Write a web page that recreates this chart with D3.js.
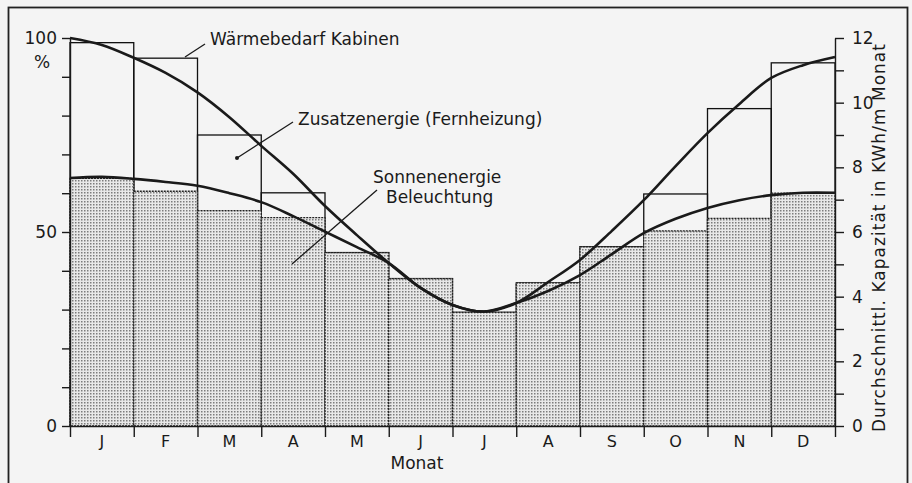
<html>
<script src='https://d3js.org/d3.v7.min.js'></script>
<style>
    body { margin: 0; background: #f4f4f4; }
    text { font-family: 'DejaVu Sans', sans-serif; fill: #1a1a1a; }
    .axis path, .axis line { stroke: #1a1a1a; stroke-width: 1.4; }
    .axis text { font-size: 17px; }
</style>

<body onload='init()'>
    <svg width=912 height=483></svg>
    <script>
        // data
        const months = ['J', 'F', 'M', 'A', 'M', 'J', 'J', 'A', 'S', 'O', 'N', 'D'];
        // Waermebedarf Kabinen (total bar height, %)
        const waermebedarf = [98.8, 94.8, 75.0, 60.1, 44.7, 38.0, 29.3, 36.9, 46.2, 59.8, 81.8, 93.6];
        // Sonnenenergie + Beleuchtung (shaded part, %)
        const sonnenenergie = [63.8, 60.5, 55.5, 53.7, 44.7, 38.0, 29.3, 36.9, 46.2, 50.3, 53.5, 60.0];
        // smooth curves, sampled at month boundaries and mid months
        const kurveMonat = [0, 0.5, 1, 1.5, 2, 2.5, 3, 3.5, 4, 4.5, 5, 5.5, 6, 6.5, 7, 7.5, 8, 8.5, 9, 9.5, 10, 10.5, 11, 11.5, 12];
        const kurveBedarf = [100, 98.2, 94.9, 91, 86, 79.6, 72.2, 65, 56.7, 49.2, 42, 35.6, 31.2, 29.5, 31.7, 37.1, 42.8, 50.3, 58.2, 67, 75.5, 83, 89.7, 93, 95.1];
        const kurveSonne = [63.9, 64.2, 63.7, 62.9, 61.9, 60, 57.7, 54.1, 50.1, 46.1, 42, 35.6, 31.2, 29.5, 31.7, 34.8, 38.9, 44.3, 49.7, 53.4, 56.2, 58.2, 59.5, 60.1, 60.1];
        const pctTicks = [0, 10, 20, 30, 40, 50, 60, 70, 80, 90, 100];
        const pctLabels = [0, 50, 100];
        const kwhTicks = [0, 1, 2, 3, 4, 5, 6, 7, 8, 9, 10, 11, 12];
        const kwhLabels = [0, 2, 4, 6, 8, 10, 12];

        function init() {
            const svg = d3.select('svg');
            const left = 70, right = 835, top = 38, bottom = 426;

            // outer frame
            svg.append('rect')
                .attr('x', 8.5).attr('y', 7.5).attr('width', 899).attr('height', 495)
                .attr('fill', '#f4f4f4').attr('stroke', '#222').attr('stroke-width', 1.8);

            // stipple pattern
            const pat = svg.append('defs').append('pattern')
                .attr('id', 'dots').attr('patternUnits', 'userSpaceOnUse')
                .attr('width', 3).attr('height', 3);
            pat.append('rect').attr('width', 3).attr('height', 3).attr('fill', '#e8e8e8');
            pat.append('rect').attr('x', 0).attr('y', 0).attr('width', 1.5).attr('height', 1.5).attr('fill', '#7c7c7c');

            const xb = d3.scaleBand().domain(d3.range(12)).range([left, right]).padding(0);
            const x = d3.scaleLinear().domain([0, 12]).range([left, right]);
            const y = d3.scaleLinear().domain([0, 100]).range([bottom, top]);
            const y2 = d3.scaleLinear().domain([0, 12]).range([bottom, top]);

            // total bars
            svg.append('g').selectAll('rect')
                .data(waermebedarf)
                .enter()
                .append('rect')
                .attr('x', (d, i) => xb(i))
                .attr('y', d => y(d))
                .attr('width', xb.bandwidth())
                .attr('height', d => y(0) - y(d))
                .attr('fill', 'none')
                .attr('stroke', '#111')
                .attr('stroke-width', 1.3);

            // shaded part
            svg.append('g').selectAll('rect')
                .data(sonnenenergie)
                .enter()
                .append('rect')
                .attr('x', (d, i) => xb(i))
                .attr('y', d => y(d))
                .attr('width', xb.bandwidth())
                .attr('height', d => y(0) - y(d))
                .attr('fill', 'url(#dots)')
                .attr('stroke', '#222')
                .attr('stroke-width', 1.3)
                .attr('stroke-dasharray', '2,1');

            // curves
            const line = d3.line()
                .x(d => x(d[0]))
                .y(d => y(d[1]))
                .curve(d3.curveCatmullRom.alpha(0.5));
            [kurveBedarf, kurveSonne].forEach(k => {
                svg.append('path')
                    .datum(kurveMonat.map((m, i) => [m, k[i]]))
                    .attr('d', line)
                    .attr('fill', 'none')
                    .attr('stroke', '#1a1a1a')
                    .attr('stroke-width', 2.6);
            });

            // axes
            svg.append('g').attr('class', 'axis')
                .attr('transform', 'translate(' + left + ',0)')
                .call(d3.axisLeft(y).tickValues(pctTicks).tickSize(8).tickSizeOuter(0).tickPadding(5)
                    .tickFormat(d => pctLabels.includes(d) ? d : ''));
            svg.append('g').attr('class', 'axis')
                .attr('transform', 'translate(' + right + ',0)')
                .call(d3.axisRight(y2).tickValues(kwhTicks).tickSize(9).tickSizeOuter(0).tickPadding(8)
                    .tickFormat(d => kwhLabels.includes(d) ? d : ''));
            svg.append('g').attr('class', 'axis')
                .attr('transform', 'translate(0,' + bottom + ')')
                .call(d3.axisBottom(x).tickValues(kwhTicks).tickSize(11).tickSizeOuter(0).tickFormat(''));

            // month labels
            svg.append('g').selectAll('text')
                .data(months)
                .enter()
                .append('text')
                .attr('x', (d, i) => xb(i) + xb.bandwidth() / 2)
                .attr('y', 447)
                .attr('text-anchor', 'middle')
                .style('font-size', '16px')
                .text(d => d);

            // titles
            svg.append('text').attr('x', 417).attr('y', 469).attr('text-anchor', 'middle')
                .style('font-size', '17px').text('Monat');
            svg.append('text').attr('x', 42).attr('y', 68).attr('text-anchor', 'middle')
                .style('font-size', '17px').text('%');
            svg.append('text')
                .attr('transform', 'translate(885,238) rotate(-90)')
                .attr('text-anchor', 'middle')
                .attr('textLength', 388)
                .attr('lengthAdjust', 'spacing')
                .style('font-size', '17px')
                .text('Durchschnittl. Kapazität in KWh/m Monat');

            // annotations
            const notes = svg.append('g').style('font-size', '17px');
            notes.append('text').attr('x', 210).attr('y', 45).text('Wärmebedarf Kabinen');
            notes.append('text').attr('x', 298).attr('y', 125).text('Zusatzenergie (Fernheizung)');
            notes.append('text').attr('x', 373).attr('y', 183).text('Sonnenenergie');
            notes.append('text').attr('x', 386).attr('y', 203).text('Beleuchtung');

            const pointer = [
                [185, 57, 205, 44],
                [237, 158, 293, 122],
                [292, 264, 377, 190]
            ];
            svg.append('g').selectAll('line')
                .data(pointer)
                .enter()
                .append('line')
                .attr('x1', d => d[0]).attr('y1', d => d[1])
                .attr('x2', d => d[2]).attr('y2', d => d[3])
                .attr('stroke', '#1a1a1a')
                .attr('stroke-width', 1.3);
            svg.append('circle').attr('cx', 237).attr('cy', 158).attr('r', 2).attr('fill', '#1a1a1a');
        }
    </script>
</body>

</html>
